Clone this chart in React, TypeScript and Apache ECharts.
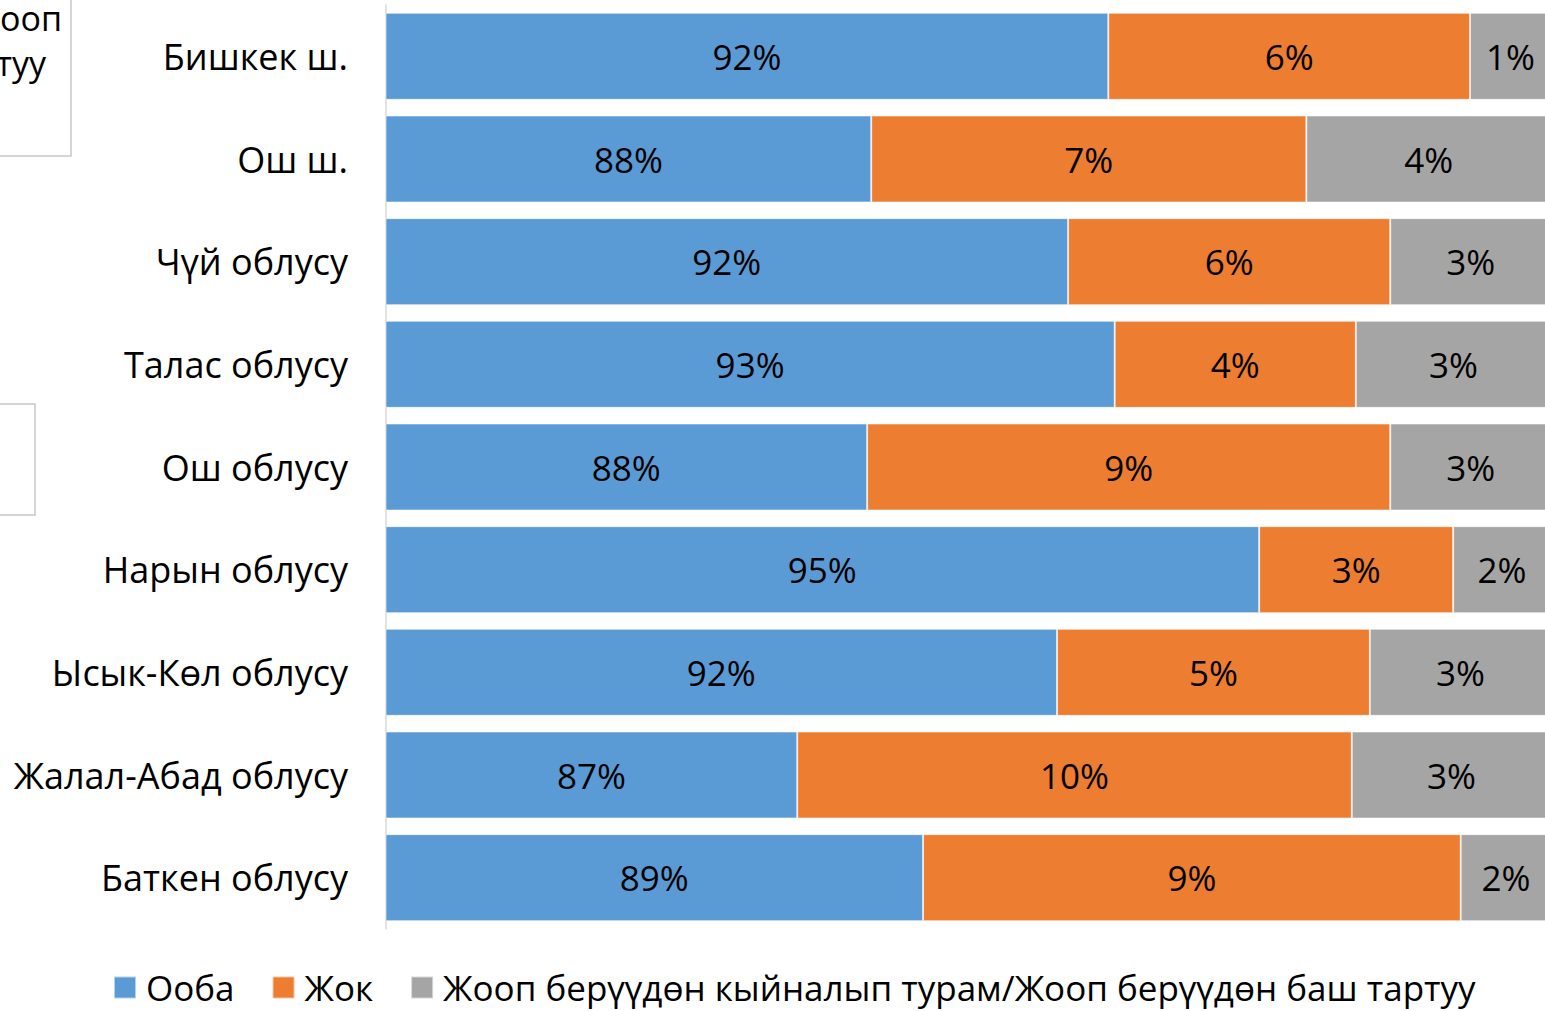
import React, { useEffect, useRef } from "react";
import * as echarts from "echarts";

const categories = [
  "Бишкек ш.",
  "Ош ш.",
  "Чүй облусу",
  "Талас облусу",
  "Ош облусу",
  "Нарын облусу",
  "Ысык-Көл облусу",
  "Жалал-Абад облусу",
  "Баткен облусу",
];
const seriesNames = ["Ооба", "Жок", "Жооп берүүдөн кыйналып турам/Жооп берүүдөн баш тартуу"];
const yesValues = [92.4, 88.33, 91.71, 92.51, 88.26, 94.99, 91.52, 87.06, 89.22];
const noValues = [6.21, 7.47, 5.53, 4.14, 8.98, 3.33, 5.37, 9.52, 9.23];
const refuseValues = [1.39, 4.2, 2.76, 3.35, 2.76, 1.68, 3.11, 3.42, 1.55];
const colors = ["#5B9BD5", "#ED7D31", "#A5A5A5"];
const axisMin = 80;
const axisMax = 100;

const FONT = "'Open Sans', 'Noto Sans', sans-serif";

export default function App() {
  const ref = useRef<HTMLDivElement>(null);
  useEffect(() => {
    if (!ref.current) return;
    const chart = echarts.init(ref.current, null, { renderer: "svg" });
    const mk = (name: string, data: number[], color: string) => ({
      name,
      type: "bar",
      stack: "total",
      data,
      barWidth: 87,
      itemStyle: { color, borderColor: "rgba(255,255,255,0.55)", borderWidth: 1 },
      label: {
        show: true,
        position: "inside",
        formatter: (p: any) => Math.round(p.value) + "%",
        fontSize: 35,
        fontFamily: FONT,
        color: "#000",
      },
    });
    chart.setOption({
      animation: false,
      grid: { left: 386, right: 0, top: 5, bottom: 82 },
      xAxis: {
        type: "value",
        min: axisMin,
        max: axisMax,
        show: false,
        splitLine: { show: false },
      },
      yAxis: {
        type: "category",
        data: categories,
        inverse: true,
        axisLine: { show: true, lineStyle: { color: "#d9d9d9", width: 1.5 } },
        axisTick: { show: false },
        axisLabel: { fontSize: 36, fontFamily: FONT, color: "#000", margin: 38 },
      },
      legend: {
        left: 113,
        top: 970,
        padding: 0,
        itemWidth: 22,
        itemHeight: 22,
        itemGap: 37,
        icon: "rect",
        textStyle: { fontSize: 35, fontFamily: FONT, color: "#000", padding: [0, 0, 0, 5] },
        data: seriesNames,
      },
      graphic: [
        {
          type: "rect",
          shape: { x: -20, y: -20, width: 91, height: 176 },
          style: { fill: "none", stroke: "#c8c8c8", lineWidth: 1.5 },
        },
        {
          type: "text",
          style: { text: "Жооп", x: 62, y: 18, align: "right", verticalAlign: "middle", fontSize: 34, fontFamily: FONT, fill: "#000" },
        },
        {
          type: "text",
          style: { text: "тартуу", x: 46, y: 63, align: "right", verticalAlign: "middle", fontSize: 34, fontFamily: FONT, fill: "#000" },
        },
        {
          type: "rect",
          shape: { x: -20, y: 404, width: 55, height: 111 },
          style: { fill: "none", stroke: "#c8c8c8", lineWidth: 1.5 },
        },
      ],
      series: [
        mk(seriesNames[0], yesValues, colors[0]),
        mk(seriesNames[1], noValues, colors[1]),
        mk(seriesNames[2], refuseValues, colors[2]),
      ],
    });
    return () => chart.dispose();
  }, []);
  return (
    <div style={{ position: "absolute", left: 0, top: 0, width: 1545, height: 1011, overflow: "hidden", background: "#fff" }}>
      <div ref={ref} style={{ width: 1551, height: 1011 }} />
    </div>
  );
}
